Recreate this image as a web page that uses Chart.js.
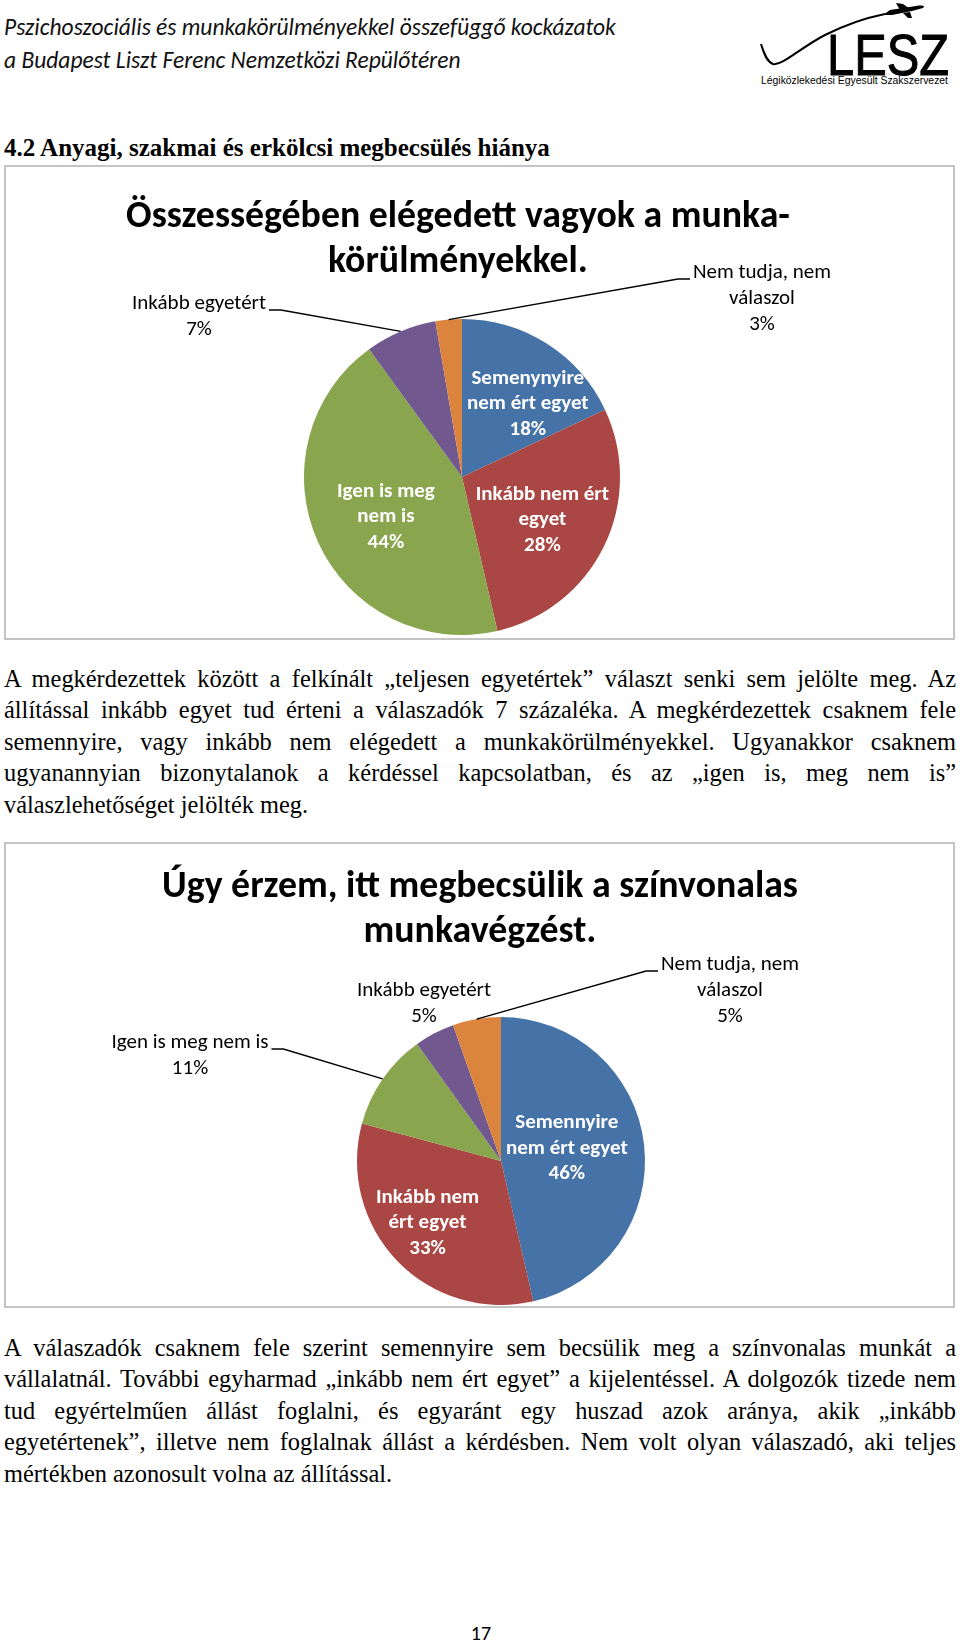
<!DOCTYPE html>
<html><head><meta charset="utf-8">
<script src="https://cdn.jsdelivr.net/npm/chart.js@4.4.1/dist/chart.umd.min.js"></script>
<style>
html,body{margin:0;padding:0;background:#fff;}
body{width:960px;height:1643px;position:relative;overflow:hidden;color:#000;}
.abs{position:absolute;}
.hdr{font-family:Carlito,Lato,sans-serif;font-style:italic;font-size:23.5px;left:4px;white-space:nowrap;line-height:30px;color:#111;}
.h2{font-family:'Liberation Serif',serif;font-weight:bold;font-size:25px;left:4px;top:133px;line-height:30px;white-space:nowrap;}
.para{font-family:'Liberation Serif',serif;font-size:24.4px;left:4px;width:952px;}
.para div{height:31.4px;line-height:31.4px;text-align:justify;text-align-last:justify;white-space:nowrap;}
.para div.last{text-align-last:left;}
.box{border:2px solid #c4c4c4;box-sizing:border-box;}
.ctitle{font-family:Carlito,Lato,sans-serif;font-weight:bold;font-size:37.8px;line-height:45px;text-align:center;white-space:nowrap;}
.pnum{font-family:Carlito,Lato,sans-serif;font-size:20px;left:0;width:962px;text-align:center;top:1619px;line-height:28px;}
</style>
</head><body>

<div class="abs hdr" style="top:12px">Pszichoszociális és munkakörülményekkel összefüggő kockázatok</div>
<div class="abs hdr" style="top:45px">a Budapest Liszt Ferenc Nemzetközi Repülőtéren</div>

<svg class="abs" style="left:740px;top:0" width="220" height="95">
  <path d="M21 44 C 24 54, 27 62, 33 64 C 42 66, 60 48, 85 35 C 105 25, 125 18, 145 14" stroke="#000" stroke-width="2" fill="none"/>
  <path d="M143 15 L 150 10 L 176 6 C 182 5, 186 6, 183 8 L 172 11 L 152 15 Z" fill="#000"/>
  <path d="M160 10 L 156 3 L 163 4 L 170 9 Z" fill="#000"/>
  <path d="M163 13 L 168 18 L 172 18 L 170 12 Z" fill="#000"/>
  <text x="87" y="75" font-family="'Liberation Sans', Arial, sans-serif" font-size="58" textLength="122" lengthAdjust="spacingAndGlyphs" stroke="#000" stroke-width="1">LESZ</text>
  <text x="21" y="84" font-family="'Liberation Sans', Arial, sans-serif" font-size="10" textLength="187" lengthAdjust="spacingAndGlyphs">Légiközlekedési Egyesült  Szakszervezet</text>
</svg>

<div class="abs h2">4.2 Anyagi, szakmai és erkölcsi megbecsülés hiánya</div>

<div class="abs box" style="left:4px;top:165px;width:951px;height:475px;">
  <canvas id="c1" width="947" height="471" style="width:947px;height:471px;display:block"></canvas>
</div>
<div class="abs ctitle" style="left:0;width:916px;top:192px">Összességében elégedett vagyok a munka-<br>körülményekkel.</div>

<div class="abs para" style="top:663px">
  <div>A megkérdezettek között a felkínált „teljesen egyetértek” választ senki sem jelölte meg. Az</div>
  <div>állítással inkább egyet tud érteni a válaszadók 7 százaléka. A megkérdezettek csaknem fele</div>
  <div>semennyire, vagy inkább nem elégedett a munkakörülményekkel. Ugyanakkor csaknem</div>
  <div>ugyanannyian bizonytalanok a kérdéssel kapcsolatban, és az „igen is, meg nem is”</div>
  <div class="last">válaszlehetőséget jelölték meg.</div>
</div>

<div class="abs box" style="left:4px;top:842px;width:951px;height:466px;">
  <canvas id="c2" width="947" height="462" style="width:947px;height:462px;display:block"></canvas>
</div>
<div class="abs ctitle" style="left:0;width:960px;top:862px">Úgy érzem, itt megbecsülik a színvonalas<br>munkavégzést.</div>

<div class="abs para" style="top:1332px">
  <div>A válaszadók csaknem fele szerint semennyire sem becsülik meg a színvonalas munkát a</div>
  <div>vállalatnál. További egyharmad „inkább nem ért egyet” a kijelentéssel. A dolgozók tizede nem</div>
  <div>tud egyértelműen állást foglalni, és egyaránt egy huszad azok aránya, akik „inkább</div>
  <div>egyetértenek”, illetve nem foglalnak állást a kérdésben. Nem volt olyan válaszadó, aki teljes</div>
  <div class="last">mértékben azonosult volna az állítással.</div>
</div>

<div class="abs pnum">17</div>

<script>
// ---- Data: chart 1 ----
const c1Categories = ['Semenynyire nem ért egyet', 'Inkább nem ért egyet', 'Igen is meg nem is', 'Inkább egyetért', 'Nem tudja, nem válaszol'];
const c1Values = [18, 28.4, 43.6, 7.3, 2.7];
const c1LabelLines = [['Semenynyire', 'nem ért egyet'], ['Inkább nem ért', 'egyet'], ['Igen is meg', 'nem is'], ['Inkább egyetért'], ['Nem tudja, nem', 'válaszol']];

// ---- Data: chart 2 ----
const c2Categories = ['Semennyire nem ért egyet', 'Inkább nem ért egyet', 'Igen is meg nem is', 'Inkább egyetért', 'Nem tudja, nem válaszol'];
const c2Values = [46.4, 32.8, 10.9, 4.5, 5.4];
const c2LabelLines = [['Semennyire', 'nem ért egyet'], ['Inkább nem', 'ért egyet'], ['Igen is meg nem is'], ['Inkább egyetért'], ['Nem tudja, nem', 'válaszol']];

// ---- Styles ----
const sliceColors = ['#4572A7', '#AA4643', '#89A54E', '#71588F', '#DB843D'];
const labelFont = 'Carlito, Lato, sans-serif';

// label placement (style): inside -> radius fraction + nudge; outside -> offset from pie centre, leader side
const c1Place = [
  {inside: true, f: 0.60, nudge: [15, 7]},
  {inside: true, f: 0.58, nudge: [-2, 3]},
  {inside: true, f: 0.55, nudge: [3, 4]},
  {inside: false, dx: -263, dy: -173, leader: 'right'},
  {inside: false, dx: 300, dy: -204, leader: 'left'}
];
const c2Place = [
  {inside: true, f: 0.46, nudge: [0, -5]},
  {inside: true, f: 0.66, nudge: [-5, -4]},
  {inside: false, dx: -311, dy: -118, leader: 'right'},
  {inside: false, dx: -77, dy: -170, leader: null},
  {inside: false, dx: 229, dy: -196, leader: 'left'}
];

const pieLabels = {
  id: 'pieLabels',
  afterDatasetsDraw(chart, args, opts) {
    const ctx = chart.ctx;
    const meta = chart.getDatasetMeta(0);
    const data = chart.data.datasets[0].data;
    const total = data.reduce((a, b) => a + b, 0);
    meta.data.forEach((arc, i) => {
      const p = arc.getProps(['x', 'y', 'startAngle', 'endAngle', 'outerRadius'], true);
      const mid = (p.startAngle + p.endAngle) / 2;
      const pct = Math.round(data[i] / total * 100) + '%';
      const lines = opts.lines[i].concat([pct]);
      const pl = opts.place[i];
      ctx.save();
      ctx.textAlign = 'center';
      ctx.textBaseline = 'middle';
      if (pl.inside) {
        const r = p.outerRadius * pl.f;
        const cx = p.x + Math.cos(mid) * r + pl.nudge[0];
        const cy = p.y + Math.sin(mid) * r + pl.nudge[1];
        ctx.fillStyle = '#ffffff';
        ctx.font = 'bold 21px ' + labelFont;
        lines.forEach((t, k) => ctx.fillText(t, cx, cy + (k - (lines.length - 1) / 2) * 25.5));
      } else {
        const cx = p.x + pl.dx, cy0 = p.y + pl.dy;
        ctx.fillStyle = '#000000';
        ctx.font = '21px ' + labelFont;
        lines.forEach((t, k) => ctx.fillText(t, cx, cy0 + k * 25.8));
        if (pl.leader) {
          const w = ctx.measureText(lines[0]).width;
          const ex = p.x + Math.cos(mid) * p.outerRadius;
          const ey = p.y + Math.sin(mid) * p.outerRadius;
          const sx = pl.leader === 'right' ? cx + w / 2 + 3 : cx - w / 2 - 3;
          const hx = pl.leader === 'right' ? sx + 12 : sx - 12;
          const ly = cy0 + 6;
          ctx.beginPath();
          ctx.moveTo(sx, ly);
          ctx.lineTo(hx, ly);
          ctx.lineTo(ex, ey);
          ctx.strokeStyle = '#000';
          ctx.lineWidth = 1.4;
          ctx.stroke();
        }
      }
      ctx.restore();
    });
  }
};

function makePie(id, cats, vals, lines, place, radius, padding) {
  return new Chart(document.getElementById(id), {
    type: 'pie',
    data: {
      labels: cats,
      datasets: [{data: vals, backgroundColor: sliceColors, borderWidth: 0, hoverOffset: 0}]
    },
    options: {
      responsive: false,
      animation: false,
      radius: radius,
      layout: {padding: padding},
      plugins: {
        legend: {display: false},
        tooltip: {enabled: false},
        title: {display: false},
        pieLabels: {lines: lines, place: place}
      },
      events: []
    },
    plugins: [pieLabels]
  });
}

makePie('c1', c1Categories, c1Values, c1LabelLines, c1Place, 158, {left: 296, right: 331, top: 150, bottom: 1});
makePie('c2', c2Categories, c2Values, c2LabelLines, c2Place, 144, {left: 350, right: 307, top: 172, bottom: 0});
</script>
</body></html>
